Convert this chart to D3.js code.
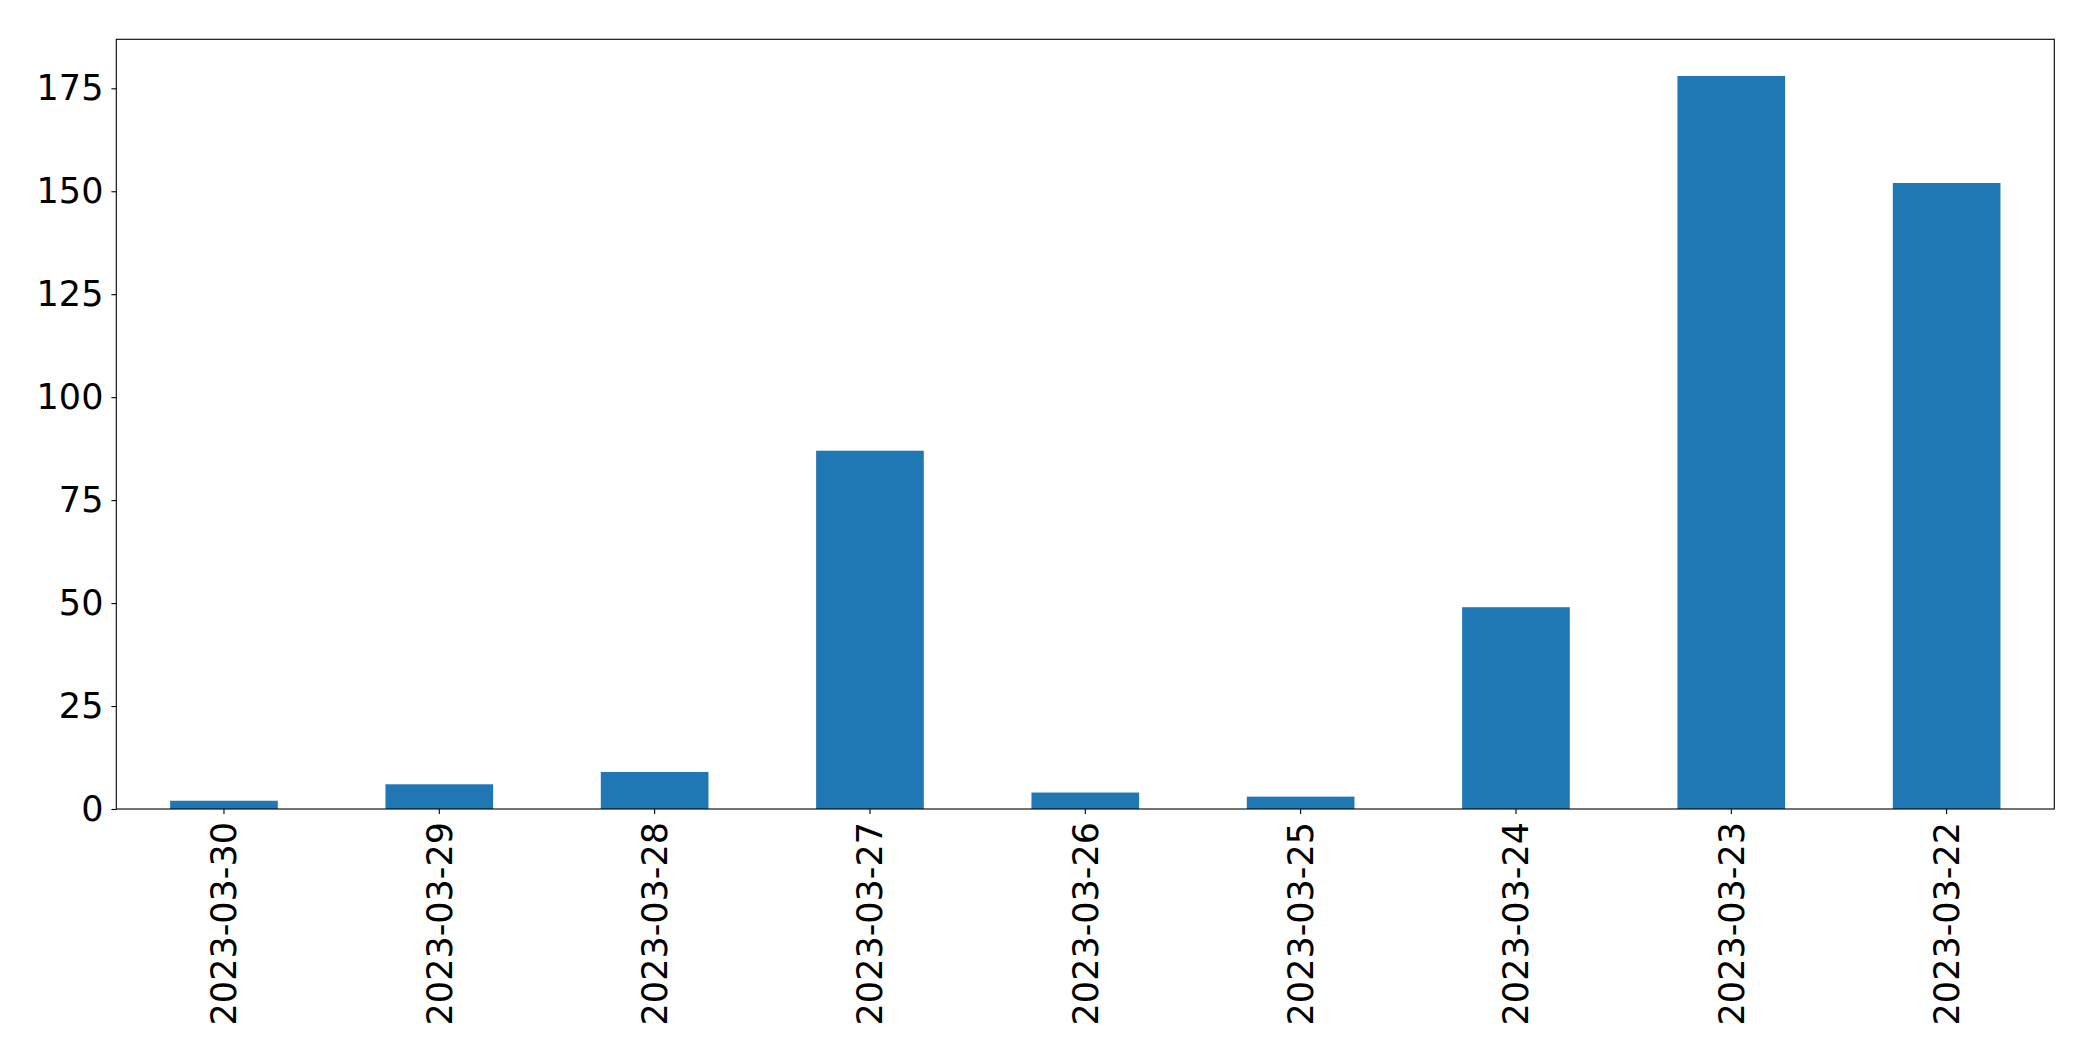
<!DOCTYPE html>
<html>
<head>
<meta charset="utf-8">
<script src="https://cdn.jsdelivr.net/npm/d3@7"></script>
<style>
  html, body { margin: 0; padding: 0; background: #fff; }
  svg { display: block; }
</style>
</head>
<body>
<svg id="chart" width="2093" height="1061"></svg>
<script>
const categories = ["2023-03-30", "2023-03-29", "2023-03-28", "2023-03-27", "2023-03-26", "2023-03-25", "2023-03-24", "2023-03-23", "2023-03-22"];
const values = [2, 6, 9, 87, 4, 3, 49, 178, 152];
const yTicks = [0, 25, 50, 75, 100, 125, 150, 175];

const W = 2093, H = 1061;
const margin = { left: 116.3, right: W - 2054.3, top: 39.3, bottom: H - 809 };
const iw = W - margin.left - margin.right;
const ih = H - margin.top - margin.bottom;
const fontFamily = "'DejaVu Sans', sans-serif";
const fontSize = 35;

const svg = d3.select("#chart");
const g = svg.append("g").attr("transform", `translate(${margin.left},${margin.top})`);

const x = d3.scaleBand().domain(categories).range([0, iw]).paddingInner(0.5).paddingOuter(0.25);
const y = d3.scaleLinear().domain([0, d3.max(values) * 1.05]).range([ih, 0]);

g.selectAll("rect.bar")
  .data(categories.map((c, i) => ({ c, v: values[i] })))
  .enter().append("rect")
  .attr("class", "bar")
  .attr("x", d => x(d.c))
  .attr("width", x.bandwidth())
  .attr("y", d => y(d.v))
  .attr("height", d => y(0) - y(d.v))
  .attr("fill", "#1f77b4");

const yAxis = g.append("g")
  .call(d3.axisLeft(y).tickValues(yTicks).tickSize(4.9).tickPadding(8).tickFormat(d3.format("d")));
yAxis.select(".domain").remove();
yAxis.selectAll("line").attr("stroke", "#000").attr("stroke-width", 1.1);
yAxis.selectAll("text").attr("font-family", fontFamily).attr("font-size", fontSize).attr("fill", "#000");

const xAxis = g.append("g").attr("transform", `translate(0,${ih})`)
  .call(d3.axisBottom(x).tickSize(4.9).tickPadding(8));
xAxis.select(".domain").remove();
xAxis.selectAll("line").attr("stroke", "#000").attr("stroke-width", 1.1);
xAxis.selectAll("text")
  .attr("font-family", fontFamily).attr("font-size", fontSize).attr("fill", "#000")
  .attr("transform", "rotate(-90)")
  .attr("text-anchor", "end")
  .attr("x", -13)
  .attr("y", 0)
  .attr("dy", "0.35em");

g.append("rect")
  .attr("x", 0).attr("y", 0).attr("width", iw).attr("height", ih)
  .attr("fill", "none").attr("stroke", "#000").attr("stroke-width", 1.1);
</script>
</body>
</html>
